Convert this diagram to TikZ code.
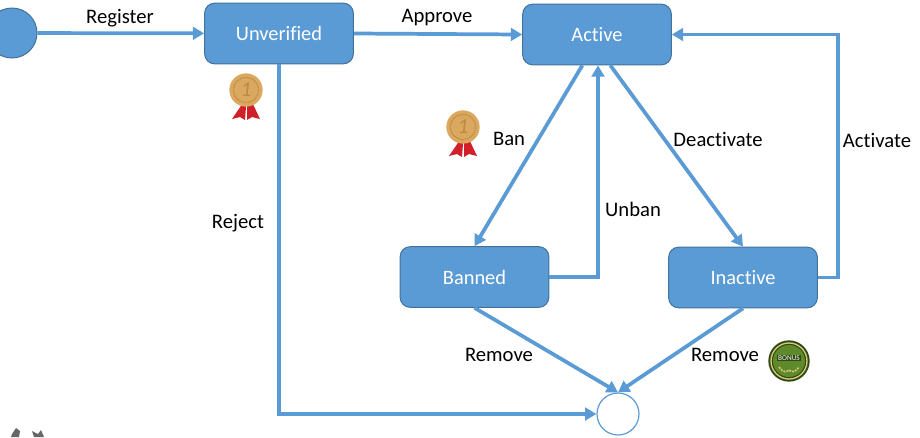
\documentclass[tikz,border=0pt]{standalone}
\usepackage{fontspec}
\setmainfont[Ligatures=NoCommon]{Carlito}
\usetikzlibrary{arrows.meta}
\definecolor{stateblue}{HTML}{5B9BD5}
\definecolor{stateedge}{HTML}{41719C}
\definecolor{medalgold}{HTML}{DBA85F}
\definecolor{medaldark}{HTML}{B98A45}
\definecolor{ribbonred}{HTML}{D2202A}
\definecolor{bonusdark}{HTML}{2F4A14}
\definecolor{bonusgreen}{HTML}{5E8A2C}
\definecolor{bonusring}{HTML}{D9C878}
\tikzset{
  statebox/.style={draw=stateedge,fill=stateblue,rounded corners=7.5pt,line width=.75pt,
    minimum width=111.5pt,minimum height=45.5pt,inner sep=0pt,text=white,font=\fontsize{15.3}{18}\selectfont},
  edgelabel/.style={inner sep=0pt,text=black,font=\fontsize{15.5}{18}\selectfont},
  flow/.style={draw=stateblue,line width=2.8pt,-{Triangle[length=8.5pt,width=9.5pt]}},
}
\newcommand{\goldmedal}[2]{%
  \fill[ribbonred] (#1-1,#2+10) -- (#1-14,#2+29) -- (#1-6,#2+27) -- (#1-1,#2+30) -- (#1+.5,#2+10) -- cycle;
  \fill[ribbonred] (#1+1,#2+10) -- (#1+1,#2+30) -- (#1+6,#2+27) -- (#1+14,#2+29) -- (#1+5,#2+10) -- cycle;
  \fill[medalgold] (#1,#2) circle (12.5pt);
  \draw[medaldark,line width=.9pt,dash pattern=on 1pt off .7pt] (#1,#2) circle (9.5pt);
  \node[inner sep=0pt,text=medaldark,font=\itshape\fontsize{16}{16}\selectfont] at (#1,#2) {1};
}
\begin{document}
\begin{tikzpicture}[x=.75pt,y=-.75pt]
\useasboundingbox (0,0) rectangle (920,437);

\begin{scope}
\clip (0,0) rectangle (920,437);
\node[circle,draw=stateedge,fill=stateblue,line width=.75pt,minimum size=37.5pt,inner sep=0pt] (start) at (12,33) {};
\fill[black!60] (12,434) -- (16,428) -- (20,431) -- (19,437) -- (11,437) -- cycle;
\fill[black!60] (32,431) -- (38,434) -- (41,430) -- (44,437) -- (34,437) -- cycle;
\end{scope}
\node[statebox] (unverified) at (279,33.5) {Unverified};
\node[statebox] (active) at (597,34.5) {Active};
\node[statebox] (banned) at (474.5,277) {Banned};
\node[statebox] (inactive) at (743,277.5) {Inactive};
\node[circle,draw=stateblue,fill=white,line width=.9pt,minimum size=31.5pt,inner sep=0pt] (finish) at (618,414) {};

\draw[flow] (start) -- (unverified);
\draw[flow] (unverified.east) -- (active.west);
\draw[flow] (unverified.south) |- (finish.west);
\draw[flow] ([xshift=-11pt]active.south) -- (banned.north);
\draw[flow] (banned.east) -| ([xshift=.75pt]active.south);
\draw[flow] ([xshift=10pt]active.south) -- (inactive.north);
\draw[flow] (inactive.east) -- ++(20,0) |- (active.east);
\draw[flow] (banned.south) -- (finish.north);
\draw[flow] (inactive.south) -- (finish.north);

\node[edgelabel] (lregister) at (120,18) {Register};
\node[edgelabel] (lapprove) at (437,18) {Approve};
\node[edgelabel] (lreject) at (238,223) {Reject};
\node[edgelabel] (lban) at (509,139) {Ban};
\node[edgelabel] (lunban) at (633,209) {Unban};
\node[edgelabel] (ldeactivate) at (718,139) {Deactivate};
\node[edgelabel] (lactivate) at (877,140) {Activate};
\node[edgelabel] (lremovea) at (499,355) {Remove};
\node[edgelabel] (lremoveb) at (725,355) {Remove};

\goldmedal{246}{90}
\goldmedal{463}{127}

\fill[bonusdark] (789,361) circle (15.5pt);
\draw[bonusring,line width=1pt] (789,361) circle (13.5pt);
\fill[bonusgreen] (789,361) circle (12pt);
\node[fill=bonusdark,inner sep=.8pt,text=white,font=\fontsize{5.5}{5.5}\selectfont] (bonus) at (789,358) {BONUS};
\draw[bonusring,line width=1.2pt,dash pattern=on 1.5pt off .8pt] (779,367) .. controls (783,373) and (787,372) .. (789,370) .. controls (791,372) and (795,373) .. (799,367);
\end{tikzpicture}
\end{document}
